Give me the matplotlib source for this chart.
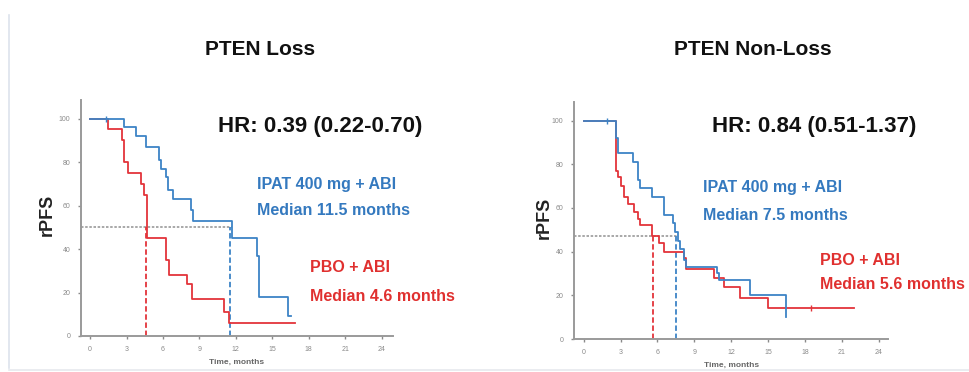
import matplotlib.pyplot as plt
from matplotlib.lines import Line2D

plt.rcParams['font.family'] = ['Liberation Sans', 'DejaVu Sans']

# PTEN loss curves (months, % progression-free)
loss_ipat_t = [0, 2.8, 3.8, 4.6, 5.7, 5.85, 6.25, 6.4, 6.8, 8.3, 8.45, 11.65, 13.75, 13.9, 16.3, 16.5]
loss_ipat_s = [100, 96, 92, 87, 81, 77, 73, 67, 63, 58, 53, 45, 37, 18, 9, 9]
loss_pbo_t = [0, 1.5, 2.6, 2.8, 3.1, 4.2, 4.45, 4.65, 6.25, 6.5, 8.0, 8.4, 11.0, 11.4, 16.9]
loss_pbo_s = [100, 95, 90, 80, 75, 70, 65, 45, 35, 28, 24, 17, 11, 6, 6]

# PTEN non-loss curves
nonloss_ipat_t = [0, 2.6, 2.75, 4.0, 4.4, 4.6, 5.55, 6.5, 7.25, 7.45, 7.65, 7.85, 8.2, 8.35,
                  10.85, 11.0, 13.55, 16.45, 16.5]
nonloss_ipat_s = [100, 92, 85, 81, 73, 69, 65, 57, 53, 49, 45, 41, 36, 33, 30, 27, 20, 10, 10]
nonloss_pbo_t = [0, 2.6, 2.75, 3.0, 3.25, 3.6, 4.05, 4.4, 4.6, 5.55, 6.1, 6.55, 8.15, 8.35,
                 10.6, 11.4, 12.75, 15.0, 22.0]
nonloss_pbo_s = [100, 77, 74, 70, 65, 62, 58, 55, 52, 47, 44, 40, 37, 32, 28, 24, 19, 14, 14]

# censor marks
loss_ipat_cens = [(1.3, 100)]
nonloss_ipat_cens = [(1.9, 100)]
nonloss_pbo_cens = [(18.5, 14)]

titles = ['PTEN Loss', 'PTEN Non-Loss']
hr_labels = ['HR: 0.39 (0.22-0.70)', 'HR: 0.84 (0.51-1.37)']
ipat_labels = [('IPAT 400 mg + ABI', 'Median 11.5 months'), ('IPAT 400 mg + ABI', 'Median 7.5 months')]
pbo_labels = [('PBO + ABI', 'Median 4.6 months'), ('PBO + ABI', 'Median 5.6 months')]
ipat_medians = [11.5, 7.5]
pbo_medians = [4.6, 5.6]
median_levels = [50, 47]
xticks = [0, 3, 6, 9, 12, 15, 18, 21, 24]
yticks = [0, 20, 40, 60, 80, 100]

BLUE = '#3d84c6'
RED = '#e3343a'
BLUE_TXT = '#3479bf'
RED_TXT = '#e0302f'

fig = plt.figure(figsize=(9.69, 3.72), dpi=100)
fig.patch.set_facecolor('white')

# faint frame lines at the left and bottom of the slide
fig.add_artist(Line2D([0.0093, 0.0093], [0.01, 0.96], color='#dde3ec', lw=1.2))
fig.add_artist(Line2D([0.0093, 1.0], [0.006, 0.006], color='#e6e9ee', lw=1.2))

boxes = [[0.0836, 0.0968, 0.3215, 0.634], [0.5923, 0.0887, 0.3245, 0.637]]
curves = [
    (loss_ipat_t, loss_ipat_s, loss_pbo_t, loss_pbo_s, loss_ipat_cens, []),
    (nonloss_ipat_t, nonloss_ipat_s, nonloss_pbo_t, nonloss_pbo_s, nonloss_ipat_cens, nonloss_pbo_cens),
]
xlims = [(-0.75, 24.9), (-0.8, 24.8)]
ylabel_x = [-0.080, -0.067]

for i, box in enumerate(boxes):
    ax = fig.add_axes(box)
    it, isv, pt, psv, icens, pcens = curves[i]
    med_y = median_levels[i]

    ax.step(pt, psv, where='post', color=RED, lw=1.3, zorder=3)
    ax.step(it, isv, where='post', color=BLUE, lw=1.3, zorder=4)
    for x, y in icens:
        ax.plot(x, y, marker='|', color=BLUE, ms=4, mew=1, zorder=5)
    for x, y in pcens:
        ax.plot(x, y, marker='|', color=RED, ms=4, mew=1, zorder=5)

    # median lines
    ax.plot([xlims[i][0], max(ipat_medians[i], pbo_medians[i]) + 0.2], [med_y, med_y],
            color='#9a9a9a', lw=1.2, ls=(0, (1.5, 1)), zorder=2)
    ax.plot([pbo_medians[i], pbo_medians[i]], [0, med_y], color=RED, lw=1.3, ls=(0, (3, 1.5)), zorder=2)
    ax.plot([ipat_medians[i], ipat_medians[i]], [0, med_y], color=BLUE, lw=1.3, ls=(0, (3, 1.5)), zorder=2)

    ax.set_xlim(*xlims[i])
    ax.set_ylim(0, 108.5)
    ax.set_xticks(xticks)
    ax.set_yticks(yticks)
    ax.tick_params(colors='#8a8a8a', labelsize=5, length=2.5, width=1, pad=5)
    for side in ('top', 'right'):
        ax.spines[side].set_visible(False)
    for side in ('left', 'bottom'):
        ax.spines[side].set_color('#9a9a9a')
        ax.spines[side].set_linewidth(1.4)
    ax.set_xlabel('Time, months', fontsize=6, fontweight='bold', color='#666666', labelpad=4)
    ax.set_ylabel('rPFS', fontsize=13, fontweight='bold', color='#222222')
    ax.yaxis.set_label_coords(ylabel_x[i], 0.512)
    ax.set_facecolor('none')

title_x = [0.268, 0.777]
hr_x = [0.330, 0.840]
ipat_pos = [(0.265, 0.503, 0.433), (0.7255, 0.497, 0.422)]
pbo_pos = [(0.320, 0.280, 0.204), (0.846, 0.301, 0.234)]

for i in range(2):
    fig.text(title_x[i], 0.866, titles[i], ha='center', va='center', fontsize=15,
             fontweight='bold', color='#111111')
    fig.text(hr_x[i], 0.659, hr_labels[i], ha='center', va='center', fontsize=16,
             fontweight='bold', color='#111111')
    x, y1, y2 = ipat_pos[i]
    fig.text(x, y1, ipat_labels[i][0], ha='left', va='center', fontsize=11.5,
             fontweight='bold', color=BLUE_TXT)
    fig.text(x, y2, ipat_labels[i][1], ha='left', va='center', fontsize=11.5,
             fontweight='bold', color=BLUE_TXT)
    x, y1, y2 = pbo_pos[i]
    fig.text(x, y1, pbo_labels[i][0], ha='left', va='center', fontsize=11.5,
             fontweight='bold', color=RED_TXT)
    fig.text(x, y2, pbo_labels[i][1], ha='left', va='center', fontsize=11.5,
             fontweight='bold', color=RED_TXT)

fig.savefig('out.png', dpi=100, facecolor='white')
